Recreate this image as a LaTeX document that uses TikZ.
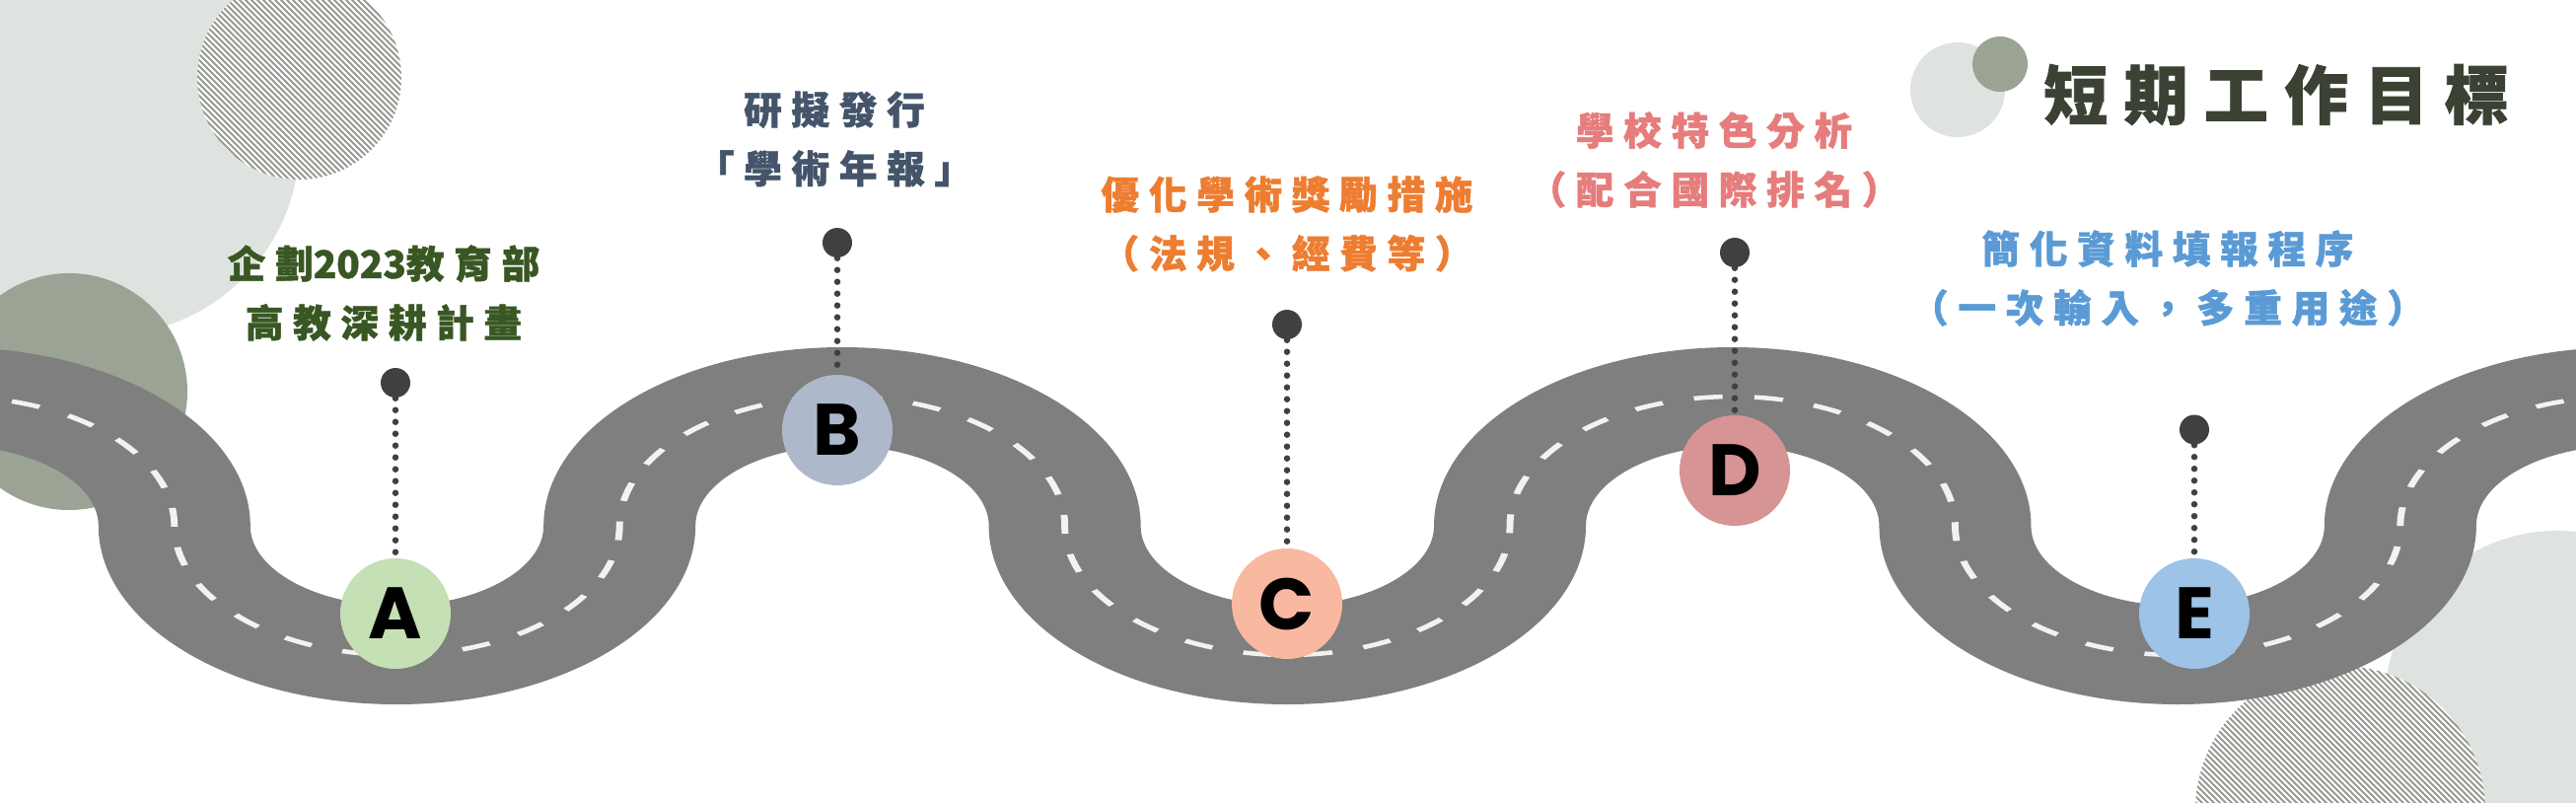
\documentclass[tikz,border=0pt]{standalone}
\usepackage{fontspec}
\newfontfamily\cjk{Noto Sans CJK TC}[LetterSpace=25, BoldFeatures={FakeBold=1.2}]
\newfontfamily\letterfont{Poppins}
\definecolor{roadgray}{HTML}{7F7F7F}
\definecolor{lanewhite}{HTML}{F2F2F2}
\definecolor{bglight}{HTML}{DEE3E0}
\definecolor{bggreen}{HTML}{9BA395}
\definecolor{hatchgray}{HTML}{989B93}
\definecolor{dotgray}{HTML}{404040}
\definecolor{stopA}{HTML}{C5E0B4}
\definecolor{stopB}{HTML}{ADB9CA}
\definecolor{stopC}{HTML}{F9B8A0}
\definecolor{stopD}{HTML}{D69494}
\definecolor{stopE}{HTML}{9DC3E6}
\definecolor{textA}{HTML}{385723}
\definecolor{textB}{HTML}{44546A}
\definecolor{textC}{HTML}{ED7D31}
\definecolor{textD}{HTML}{E67C7C}
\definecolor{textE}{HTML}{5B9BD5}
\definecolor{titlecol}{HTML}{3B4234}
\begin{document}
\begin{tikzpicture}[
    stopstyle/.style={circle, minimum size=11.2mm, inner sep=0pt, font=\letterfont\bfseries\fontsize{21}{21}\selectfont},
    dotstyle/.style={circle, minimum size=3mm, inner sep=0pt, fill=dotgray},
    dotline/.style={dotgray, line width=0.65mm, line cap=round, dash pattern=on 0pt off 1.2mm},
    labelstyle/.style={align=center, font=\cjk\bfseries\fontsize{11}{17}\selectfont},
    roadstyle/.style={roadgray, line width=10mm},
    lanestyle/.style={lanewhite, line width=0.45mm, dash pattern=on 1.9mm off 2.1mm},
    hatchstyle/.style={hatchgray, line width=0.18mm}
]
    \useasboundingbox (0,0) rectangle (26.12,8.13);
    \clip (0,0) rectangle (26.12,8.13);
    \fill[white] (0,0) rectangle (26.12,8.13);

    % circles behind the road
    \fill[bglight] (1.07,6.70) circle (1.97);
    \begin{scope}
        \clip (3.035,7.345) circle (1.035);
        \fill[white] (3.035,7.345) circle (1.035);
        \foreach \k in {-26,...,26}
            \draw[hatchstyle] (3.035+\k*0.06-2,9.345) -- ++(4,-4);
    \end{scope}
    \fill[bggreen] (0.70,4.16) circle (1.20);
    \fill[bglight] (25.93,1.00) circle (1.75);
    \begin{scope}
        \clip (23.73,-0.09) circle (1.47);
        \fill[white] (23.73,-0.09) circle (1.47);
        \foreach \k in {-36,...,36}
            \draw[hatchstyle] (23.73+\k*0.06-2.6,2.51) -- ++(5.2,-5.2);
    \end{scope}
    \fill[bglight] (19.85,7.22) circle (0.48);
    \fill[bggreen] (20.28,7.48) circle (0.28);

    % road
    \begin{scope}[transform canvas={xscale=1.54}]
        \draw[roadstyle] (-0.3175,4.11) \foreach \p in {1,2,3} {
            arc[start angle=90, end angle=0, x radius=1.4656, y radius=1.31]
            arc[start angle=180, end angle=270, x radius=1.4656, y radius=1.31]
            arc[start angle=270, end angle=360, x radius=1.4656, y radius=1.31]
            arc[start angle=180, end angle=90, x radius=1.4656, y radius=1.31]
        };
        \draw[lanestyle] (-0.3175,4.11) \foreach \p in {1,2,3} {
            arc[start angle=90, end angle=0, x radius=1.4656, y radius=1.31]
            arc[start angle=180, end angle=270, x radius=1.4656, y radius=1.31]
            arc[start angle=270, end angle=360, x radius=1.4656, y radius=1.31]
            arc[start angle=180, end angle=90, x radius=1.4656, y radius=1.31]
        };
    \end{scope}

    % stops
    \node[stopstyle, fill=stopA] at (4.01,1.91) (sA) {A};
    \node[stopstyle, fill=stopB] at (8.49,3.77) (sB) {B};
    \node[stopstyle, fill=stopC] at (13.05,2.01) (sC) {C};
    \node[stopstyle, fill=stopD] at (17.59,3.36) (sD) {D};
    \node[stopstyle, fill=stopE] at (22.25,1.91) (sE) {E};

    \node[dotstyle] at (4.01,4.25) (pA) {};
    \node[dotstyle] at (8.49,5.67) (pB) {};
    \node[dotstyle] at (13.05,4.84) (pC) {};
    \node[dotstyle] at (17.59,5.57) (pD) {};
    \node[dotstyle] at (22.25,3.775) (pE) {};

    \draw[dotline] (pA) -- (sA);
    \draw[dotline] (pB) -- (sB);
    \draw[dotline] (pC) -- (sC);
    \draw[dotline] (pD) -- (sD);
    \draw[dotline] (pE) -- (sE);

    % labels
    \node[labelstyle, text=textA] at (3.89,5.16) (tA) {企劃{\addfontfeatures{LetterSpace=0}2023}教育部\\高教深耕計畫};
    \node[labelstyle, text=textB] at (8.46,6.72) (tB) {研擬發行\\「學術年報」};
    \node[labelstyle, text=textC] at (13.05,5.86) (tC) {優化學術獎勵措施\\（法規、經費等）};
    \node[labelstyle, text=textD] at (17.38,6.51) (tD) {學校特色分析\\（配合國際排名）};
    \node[labelstyle, text=textE] at (21.98,5.31) (tE) {簡化資料填報程序\\（一次輸入，多重用途）};
    \node[text=titlecol, font=\cjk\bfseries\fontsize{18.5}{20}\selectfont] at (23.08,7.17) (title) {短期工作目標};
\end{tikzpicture}
\end{document}
